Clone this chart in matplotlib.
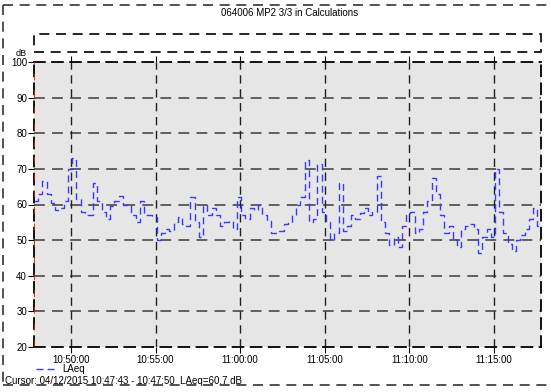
import matplotlib
matplotlib.use("Agg")
import matplotlib.pyplot as plt
import matplotlib.dates as mdates
import pandas as pd
import numpy as np

plt.rcParams['font.family'] = ['Liberation Sans', 'DejaVu Sans']

# LAeq, 15 s intervals starting 10:47:49
laeq = [61, 63, 66.5, 63, 60.5, 58.5, 59, 61, 70, 73,
        61.5, 58, 57, 57, 66, 61, 58, 56, 59.5, 61,
        62.5, 60, 60, 57, 55, 61, 57, 57, 56.5, 50,
        52, 53, 52.5, 55, 56.5, 54.5, 54, 62, 55, 51,
        60, 57, 59, 57, 54, 55, 55.5, 53, 62, 57,
        56, 59, 58.5, 60, 57, 55.5, 52, 52, 52.5, 54.5,
        55, 57, 60, 62, 72.5, 55, 56, 71.5, 58, 55,
        50, 52, 66, 52.5, 54, 57, 56, 57.5, 59, 57,
        58, 68, 55, 52, 48.5, 51, 48, 54, 57.5, 58,
        52, 53, 58, 61, 67.5, 63, 57, 52, 54, 50,
        48, 53, 54, 54.5, 53, 46.5, 51, 53, 51, 70,
        58, 52, 49, 47, 50, 51.5, 53, 56, 59, 54, 52]
start_time = "2015-04-12 10:47:49"
step = "15s"
y_ticks = [20, 30, 40, 50, 60, 70, 80, 90, 100]

times = pd.date_range(start_time, periods=len(laeq), freq=step)

fig = plt.figure(figsize=(5.51, 3.92), dpi=100)
ax = fig.add_axes([34 / 551, 1 - 347 / 392, 507 / 551, 285 / 392])
ax.set_facecolor('#e6e6e6')

ax.plot(times, laeq, drawstyle='steps-post', color='#3a3aff', lw=1.0,
        dashes=(5, 3), label='LAeq')

ax.set_ylim(20, 100)
ax.set_yticks(y_ticks)
ax.set_xlim(pd.Timestamp("2015-04-12 10:47:49"), pd.Timestamp("2015-04-12 11:17:47"))
ax.xaxis.set_major_locator(mdates.MinuteLocator(byminute=range(0, 60, 5)))
ax.xaxis.set_major_formatter(mdates.DateFormatter('%H:%M:%S'))

for y in y_ticks[1:-1]:
    ax.axhline(y, color='#555555', lw=1.3, dashes=(6, 4), zorder=1)
for t in ax.get_xticks():
    ax.axvline(t, color='#222222', lw=1.0, dashes=(6, 4), zorder=1)

# cursor at the first interval
ax.axvline(times[0], color='red', lw=1.2, dashes=(4, 6), zorder=3)

for s in ax.spines.values():
    s.set_linestyle((0, (6, 4)))
    s.set_linewidth(1.3)
    s.set_color('black')

ax.tick_params(axis='x', top=True, bottom=True, direction='out', length=4,
               labelsize=7, pad=2)
ax.tick_params(axis='y', left=True, direction='out', length=4, labelsize=7, pad=1)

fig.text(21 / 551, 1 - 53 / 392, 'dB', fontsize=6.5, ha='center', va='center')
fig.text(290 / 551, 1 - 13 / 392, '064006 MP2 3/3 in Calculations', fontsize=7,
         ha='center', va='center')

# empty header box above the plot
box = plt.Rectangle((34 / 551, 1 - 52 / 392), 507 / 551, 18 / 392,
                    transform=fig.transFigure, fill=False, ec='black', lw=1.2,
                    ls=(0, (6, 4)))
fig.add_artist(box)

# outer frame
frame_kw = dict(transform=fig.transFigure, color='#333333', lw=1.2, ls=(0, (6, 4)))
fig.add_artist(plt.Line2D([3 / 551, 3 / 551], [1 - 5 / 392, 1 - 385 / 392], **frame_kw))
fig.add_artist(plt.Line2D([3 / 551, 1], [1 - 5 / 392, 1 - 5 / 392], **frame_kw))
fig.add_artist(plt.Line2D([3 / 551, 1], [1 - 385 / 392, 1 - 385 / 392], **frame_kw))

# legend
fig.add_artist(plt.Line2D([36 / 551, 58 / 551], [1 - 369 / 392, 1 - 369 / 392],
                          transform=fig.transFigure, color='#3a3aff', lw=1.0,
                          dashes=(5, 3)))
fig.text(62 / 551, 1 - 369 / 392, 'LAeq', fontsize=7, va='center')
fig.text(5 / 551, 1 - 381 / 392,
         'Cursor: 04/12/2015 10:47:43 - 10:47:50  LAeq=60.7 dB',
         fontsize=7, va='center')

fig.savefig('out.png', dpi=100)
